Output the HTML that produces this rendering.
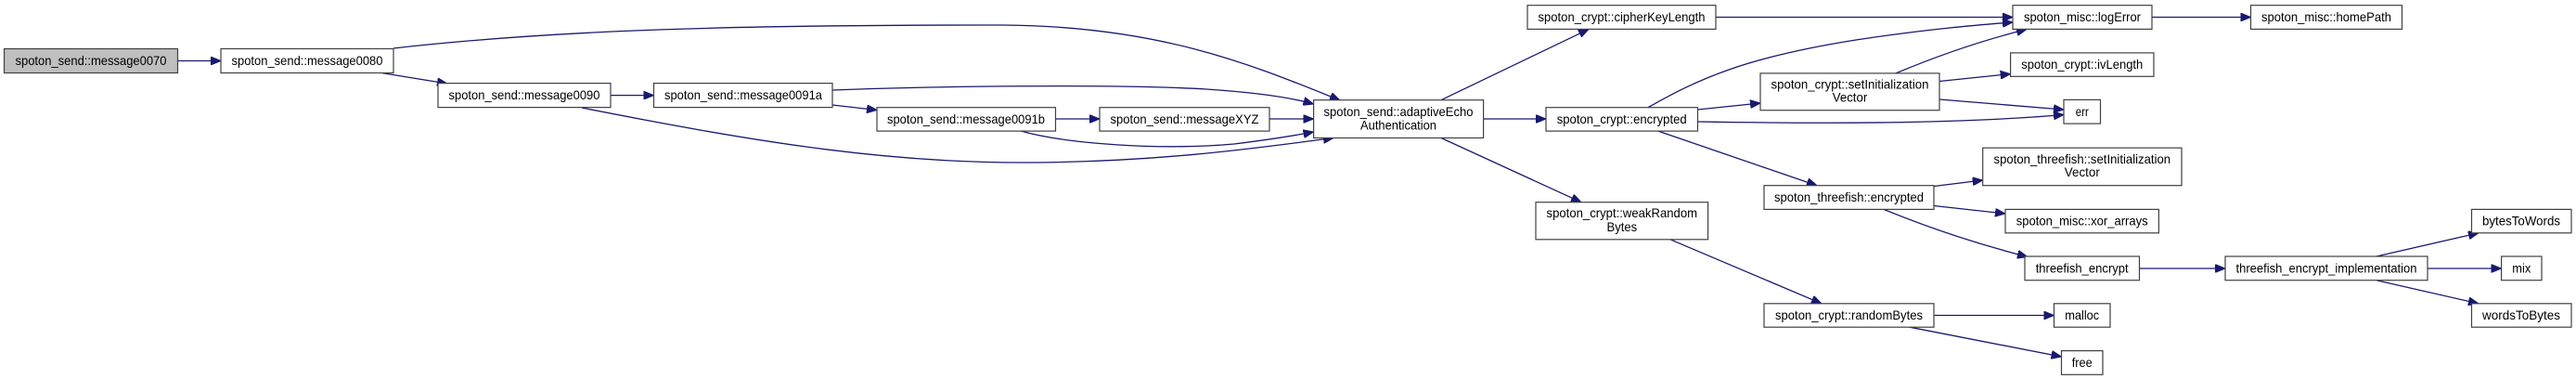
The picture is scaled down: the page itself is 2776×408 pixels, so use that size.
<!DOCTYPE html>
<html><head><meta charset="utf-8"><style>
html,body{margin:0;padding:0;background:#fff;}
svg{display:block;}
text{font-family:"Liberation Sans",Arial,sans-serif;font-size:14px;fill:#000;text-anchor:middle;}
.n{fill:#fff;stroke:#404040;stroke-width:1.2;}
.e{fill:none;stroke:#191970;stroke-width:1.3;marker-end:url(#a);}
</style></head><body>
<svg width="2776" height="408" viewBox="0 0 2776 408" xmlns="http://www.w3.org/2000/svg">
<defs><marker id="a" markerUnits="userSpaceOnUse" markerWidth="12" markerHeight="9" refX="11" refY="4.5" orient="auto"><path d="M0,0 L11,4.5 L0,9 Z" fill="#191970" stroke="#191970"/></marker></defs>

<!-- edges -->
<path class="e" d="M191,65.5 L238,65.5"/>
<path class="e" d="M424,52 C600,32 800,26.7 1080,27 C1250,28 1350,70 1444,108"/>
<path class="e" d="M412,78.6 L482,90"/>
<path class="e" d="M658,102.6 L704.5,102.6"/>
<path class="e" d="M627,116 C800,150 950,176 1110,175 C1250,174 1350,160 1437,148.5"/>
<path class="e" d="M897,97 C1000,93 1200,90 1300,96 C1360,100 1395,106 1415.5,112"/>
<path class="e" d="M897,113 L945,118.5"/>
<path class="e" d="M1137.5,128 L1185,128"/>
<path class="e" d="M1368,128 L1415.5,128"/>
<path class="e" d="M1100,141 C1150,155 1250,162 1330,155 C1370,150 1400,145 1415.5,142"/>
<path class="e" d="M1553,107.7 L1712,31.4"/>
<path class="e" d="M1598.7,128 L1666,128"/>
<path class="e" d="M1553,148.5 L1704,217.7"/>
<path class="e" d="M1849,18.5 L2169,18.5"/>
<path class="e" d="M1776,115.7 C1830,85 1880,62 2000,43 C2080,31 2130,27 2169,24"/>
<path class="e" d="M2043,78.9 C2100,55 2150,40 2184,31.5"/>
<path class="e" d="M1829.5,118 L1897,111"/>
<path class="e" d="M1829.5,131 C1950,133 2100,134 2224,123.5"/>
<path class="e" d="M2090,87.5 L2166.6,79.6"/>
<path class="e" d="M2090,107 L2224,118"/>
<path class="e" d="M1787,141.1 L1958,199.7"/>
<path class="e" d="M2084,200.5 L2136.7,194"/>
<path class="e" d="M2084,221.5 L2161,230"/>
<path class="e" d="M2030,225.4 C2090,250 2140,265 2185,276.5"/>
<path class="e" d="M2305.5,289 L2398,289"/>
<path class="e" d="M2561,276 L2671,250.8"/>
<path class="e" d="M2616,289 L2695.6,289"/>
<path class="e" d="M2561,301.7 L2671,326.8"/>
<path class="e" d="M1800,257.8 L1963,326.8"/>
<path class="e" d="M2084,339.5 L2213.5,339.5"/>
<path class="e" d="M2058,352.2 L2221.5,384"/>
<path class="e" d="M2319,18.5 L2425.5,18.5"/>

<!-- nodes -->
<rect x="4.5" y="52.5" width="187" height="26" fill="#bfbfbf" stroke="#404040" stroke-width="1.2"/>
<text x="98" y="70" textLength="163" lengthAdjust="spacingAndGlyphs">spoton_send::message0070</text>

<rect class="n" x="238" y="52.5" width="186" height="26"/>
<text x="331" y="70" textLength="163" lengthAdjust="spacingAndGlyphs">spoton_send::message0080</text>

<rect class="n" x="472" y="89.6" width="186" height="26"/>
<text x="565" y="107" textLength="163" lengthAdjust="spacingAndGlyphs">spoton_send::message0090</text>

<rect class="n" x="704.5" y="89.6" width="192.5" height="26"/>
<text x="801" y="107" textLength="170" lengthAdjust="spacingAndGlyphs">spoton_send::message0091a</text>

<rect class="n" x="945" y="115.7" width="192.5" height="25.4"/>
<text x="1041" y="133" textLength="170" lengthAdjust="spacingAndGlyphs">spoton_send::message0091b</text>

<rect class="n" x="1185" y="115.7" width="183" height="25.4"/>
<text x="1276.5" y="133" textLength="160" lengthAdjust="spacingAndGlyphs">spoton_send::messageXYZ</text>

<rect class="n" x="1415.6" y="107.7" width="183" height="40.8"/>
<text x="1507" y="125" textLength="161" lengthAdjust="spacingAndGlyphs">spoton_send::adaptiveEcho</text>
<text x="1507" y="139.5" textLength="82" lengthAdjust="spacingAndGlyphs">Authentication</text>

<rect class="n" x="1646" y="5.7" width="203" height="25.7"/>
<text x="1747.5" y="23" textLength="180" lengthAdjust="spacingAndGlyphs">spoton_crypt::cipherKeyLength</text>

<rect class="n" x="1666" y="115.7" width="163.5" height="25.4"/>
<text x="1747.7" y="133" textLength="140" lengthAdjust="spacingAndGlyphs">spoton_crypt::encrypted</text>

<rect class="n" x="1897" y="78.9" width="193" height="39.8"/>
<text x="1993.5" y="95.5" textLength="170" lengthAdjust="spacingAndGlyphs">spoton_crypt::setInitialization</text>
<text x="1993.5" y="109.5" textLength="37.5" lengthAdjust="spacingAndGlyphs">Vector</text>

<rect class="n" x="1655" y="217.7" width="185.6" height="40.1"/>
<text x="1747.8" y="234" textLength="162.5" lengthAdjust="spacingAndGlyphs">spoton_crypt::weakRandom</text>
<text x="1747.8" y="249" textLength="32.6" lengthAdjust="spacingAndGlyphs">Bytes</text>

<rect class="n" x="1901" y="199.7" width="183" height="25.7"/>
<text x="1992.5" y="217" textLength="161" lengthAdjust="spacingAndGlyphs">spoton_threefish::encrypted</text>

<rect class="n" x="1901" y="326.8" width="183" height="25.4"/>
<text x="1992.5" y="344" textLength="159" lengthAdjust="spacingAndGlyphs">spoton_crypt::randomBytes</text>

<rect class="n" x="2169" y="5.7" width="150" height="25.7"/>
<text x="2244" y="23" textLength="126" lengthAdjust="spacingAndGlyphs">spoton_misc::logError</text>

<rect class="n" x="2425.5" y="5.7" width="163" height="25.7"/>
<text x="2507" y="23" textLength="140" lengthAdjust="spacingAndGlyphs">spoton_misc::homePath</text>

<rect class="n" x="2166.6" y="56.9" width="154.4" height="25.4"/>
<text x="2243.8" y="74" textLength="131" lengthAdjust="spacingAndGlyphs">spoton_crypt::ivLength</text>

<rect class="n" x="2224" y="107.4" width="39.5" height="25.7"/>
<text x="2243.8" y="125" textLength="14" lengthAdjust="spacingAndGlyphs">err</text>

<rect class="n" x="2136.7" y="159.2" width="214.3" height="40.5"/>
<text x="2243.8" y="176" textLength="190.6" lengthAdjust="spacingAndGlyphs">spoton_threefish::setInitialization</text>
<text x="2243.8" y="190" textLength="38" lengthAdjust="spacingAndGlyphs">Vector</text>

<rect class="n" x="2161" y="225.4" width="165.4" height="25.4"/>
<text x="2243.7" y="242.5" textLength="142" lengthAdjust="spacingAndGlyphs">spoton_misc::xor_arrays</text>

<rect class="n" x="2182" y="276" width="123.5" height="25.7"/>
<text x="2243.7" y="293.5" textLength="100" lengthAdjust="spacingAndGlyphs">threefish_encrypt</text>

<rect class="n" x="2398" y="276" width="218" height="25.7"/>
<text x="2507" y="293.5" textLength="195" lengthAdjust="spacingAndGlyphs">threefish_encrypt_implementation</text>

<rect class="n" x="2663.5" y="225.4" width="107.5" height="25.4"/>
<text x="2717" y="242.5" textLength="84" lengthAdjust="spacingAndGlyphs">bytesToWords</text>

<rect class="n" x="2695.6" y="276" width="43.4" height="25.7"/>
<text x="2717.3" y="293.5" textLength="20" lengthAdjust="spacingAndGlyphs">mix</text>

<rect class="n" x="2663.5" y="326.8" width="107.5" height="25.4"/>
<text x="2717" y="344" textLength="84" lengthAdjust="spacingAndGlyphs">wordsToBytes</text>

<rect class="n" x="2213.5" y="326.8" width="60.5" height="25.4"/>
<text x="2243.7" y="344" textLength="37" lengthAdjust="spacingAndGlyphs">malloc</text>

<rect class="n" x="2221.5" y="377.6" width="44.5" height="25.7"/>
<text x="2243.7" y="395" textLength="22" lengthAdjust="spacingAndGlyphs">free</text>
</svg>
</body></html>
